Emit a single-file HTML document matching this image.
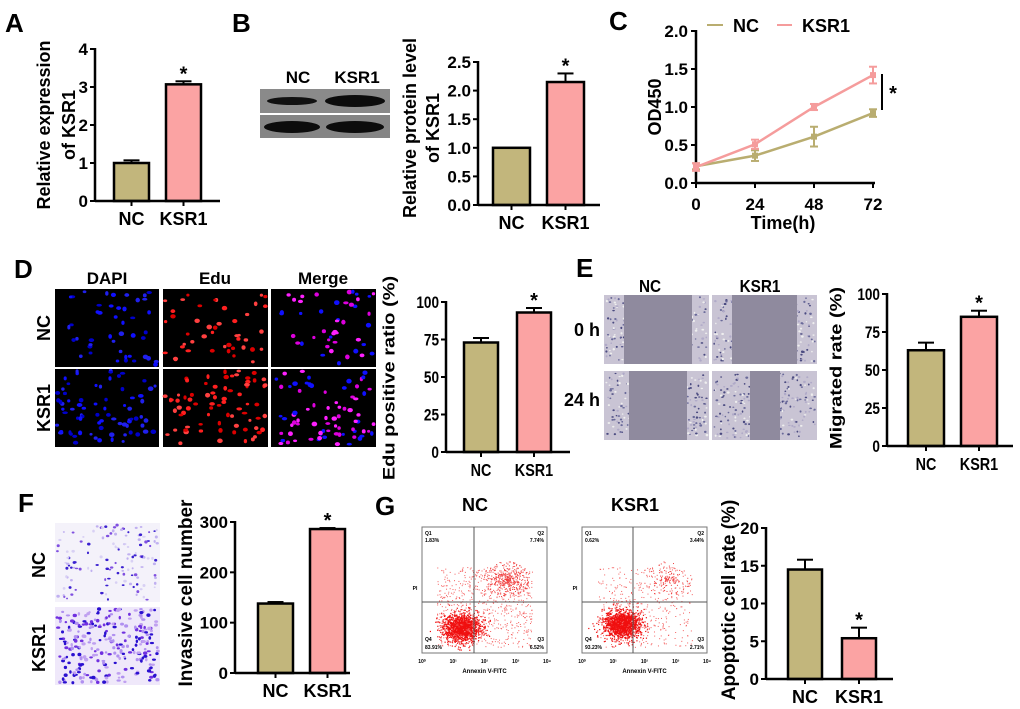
<!DOCTYPE html>
<html><head><meta charset="utf-8">
<style>
body{margin:0;background:#fff;}
svg{display:block;font-family:"Liberation Sans",Arial,sans-serif;}
.t{font-weight:bold;fill:#000;}
</style></head>
<body>
<svg id="fig" width="1020" height="709" viewBox="0 0 1020 709" xmlns="http://www.w3.org/2000/svg">
<g id="root"></g>
</svg>
<script>
// ---- chart data ----
const groups = ["NC","KSR1"];
const aValues = [1.0, 3.07];
const aErrors = [0.07, 0.08];
const aTicks = ["0","1","2","3","4"];
const bValues = [1.0, 2.15];
const bErrors = [0, 0.15];
const bTicks = ["0.0","0.5","1.0","1.5","2.0","2.5"];
const cTimes = [0,24,48,72];
const cNC = [0.22,0.36,0.61,0.92];
const cNCerr = [0.04,0.07,0.13,0.05];
const cKSR = [0.21,0.51,1.0,1.42];
const cKSRerr = [0.05,0.06,0.04,0.11];
const cYTicks = ["0.0","0.5","1.0","1.5","2.0"];
const dValues = [73, 93];
const dErrors = [3, 3];
const eValues = [63, 85];
const eErrors = [5, 4];
const pctTicks = ["0","25","50","75","100"];
const fValues = [138, 286];
const fErrors = [3, 2];
const fTicks = ["0","100","200","300"];
const gValues = [14.5, 5.4];
const gErrors = [1.3, 1.4];
const gTicks = ["0","5","10","15","20"];

const NS="http://www.w3.org/2000/svg";
const root=document.getElementById('root');
const BARC=["#c2b67c","#fba3a3"];
function mk(tag,attrs,parent){const e=document.createElementNS(NS,tag);for(const k in attrs)e.setAttribute(k,attrs[k]);(parent||root).appendChild(e);return e;}
function txt(s,x,y,size,parent,anchor,extra){const e=mk('text',Object.assign({x:x,y:y,'font-size':size,'text-anchor':anchor||'middle',class:'t'},extra||{}),parent);e.textContent=s;return e;}
let seed=7;function rnd(){seed=(seed*16807)%2147483647;return seed/2147483647;}

function barChart(name,o,values,errors,ticks){
  const g=mk('g',{});
  
  
  const max=parseFloat(ticks[ticks.length-1]);
  const y=v=>o.y0-(v/max)*(o.y0-o.y1);
  ticks.forEach((t,i)=>{const v=parseFloat(t);const yy=y(v);
    mk('line',{x1:o.ax-5,x2:o.ax,y1:yy,y2:yy,stroke:'#000','stroke-width':2},g);
    const tl=txt(t,o.ax-7,yy+6,o.fs||17,g,'end',o.narrow?{transform:`translate(${o.ax-7},${yy+6}) scale(0.8,1) translate(${-(o.ax-7)},${-(yy+6)})`}:{});
    
    
  });
  values.forEach((v,i)=>{
    const x=o.bx[i],w=o.bw;
    const top=y(v+errors[i]);
    if(errors[i]>0){
      mk('line',{x1:x+w/2,x2:x+w/2,y1:y(v),y2:top,stroke:'#000','stroke-width':2},g);
      mk('line',{x1:x+w/2-8,x2:x+w/2+8,y1:top,y2:top,stroke:'#000','stroke-width':2},g);
    }
    const r=mk('rect',{x:x,y:y(v),width:w,height:o.y0-y(v),fill:BARC[i],stroke:'#000','stroke-width':2.5},g);
    
    
    mk('line',{x1:x+w/2,x2:x+w/2,y1:o.y0,y2:o.y0+5,stroke:'#000','stroke-width':2},g);
    const lx=x+w/2;
    const lb=txt(groups[i],lx,o.y0+24,18,g,'middle',o.narrow?{transform:`translate(${lx},0) scale(0.8,1) translate(${-lx},0)`}:{});
    
    
    if(i===o.star){const s=txt('*',x+w/2,top-1,20,g);}
  });
  mk('line',{x1:o.ax,x2:o.ax,y1:o.y1-1,y2:o.y0,stroke:'#000','stroke-width':2.5},g);
  mk('line',{x1:o.ax,x2:o.xend,y1:o.y0,y2:o.y0,stroke:'#000','stroke-width':2.5},g);
  o.title.forEach((line,k)=>{
    const tx=o.tx[k],ty=o.ty;
    const t=txt(line,tx,ty,o.tfs||18,g,'middle',{transform:`rotate(-90 ${tx} ${ty})`+(o.narrow?` translate(${tx},${ty}) scale(1,0.85) translate(${-tx},${-ty})`:''),'dominant-baseline':'middle'});
    
    
  });
}
function letter(s,x,y){const t=txt(s,x,y,26,root,'start');}

letter('A',5,32);letter('B',232,32);letter('C',609,30);letter('D',14,278);letter('E',576,277);letter('F',18,512);letter('G',375,515);

// A
barChart('chart-a',{ax:95,y0:201,y1:49,bx:[114,166],bw:35,xend:220,star:1,title:['Relative expression','of KSR1'],tx:[45,70],ty:125},aValues,aErrors,aTicks);
// B blot
(function(){const g=mk('g',{});
 txt('NC',298,83,17,g);txt('KSR1',357,83,17,g);
 mk('rect',{x:260,y:89,width:130,height:24,fill:'#8a8a8a'},g);
 mk('rect',{x:260,y:115,width:130,height:23,fill:'#858585'},g);
 mk('ellipse',{cx:292,cy:101,rx:25,ry:4,fill:'#111'},g);
 mk('ellipse',{cx:355,cy:101,rx:30,ry:6,fill:'#0c0c0c'},g);
 mk('ellipse',{cx:292,cy:127,rx:28,ry:6,fill:'#0c0c0c'},g);
 mk('ellipse',{cx:355,cy:127,rx:29,ry:6,fill:'#0c0c0c'},g);
})();
barChart('chart-b',{ax:478,y0:205,y1:62,bx:[493,547],bw:37,xend:600,star:1,title:['Relative protein level','of KSR1'],tx:[411,434],ty:128},bValues,bErrors,bTicks);

// C line chart
(function(){
 const g=mk('g',{});
 const x=t=>696+(t/72)*(873-696), y=v=>183-(v/2)*(183-31);
 cYTicks.forEach(t=>{const yy=y(parseFloat(t));mk('line',{x1:691,x2:696,y1:yy,y2:yy,stroke:'#000','stroke-width':2},g);txt(t,688,yy+6,17,g,'end');});
 cTimes.forEach(t=>{mk('line',{x1:x(t),x2:x(t),y1:183,y2:188,stroke:'#000','stroke-width':2},g);txt(String(t),x(t),210,17,g);});
 mk('line',{x1:696,x2:696,y1:30,y2:183,stroke:'#000','stroke-width':2.5},g);
 mk('line',{x1:696,x2:875,y1:183,y2:183,stroke:'#000','stroke-width':2.5},g);
 [[cNC,cNCerr,'#b9ad70','line-nc'],[cKSR,cKSRerr,'#f59c9c','line-ksr1']].forEach(([vals,errs,col,nm])=>{
   const p=mk('polyline',{points:vals.map((v,i)=>x(cTimes[i])+','+y(v)).join(' '),fill:'none',stroke:col,'stroke-width':2.5},g);
   
   vals.forEach((v,i)=>{const xx=x(cTimes[i]);
     mk('line',{x1:xx,x2:xx,y1:y(v-errs[i]),y2:y(v+errs[i]),stroke:col,'stroke-width':2},g);
     mk('line',{x1:xx-4,x2:xx+4,y1:y(v-errs[i]),y2:y(v-errs[i]),stroke:col,'stroke-width':2},g);
     mk('line',{x1:xx-4,x2:xx+4,y1:y(v+errs[i]),y2:y(v+errs[i]),stroke:col,'stroke-width':2},g);
     mk('rect',{x:xx-3,y:y(v)-3,width:6,height:6,fill:col},g);
   });
 });
 mk('line',{x1:707,x2:723,y1:25,y2:25,stroke:'#b9ad70','stroke-width':2},g);txt('NC',733,32,18,g,'start');
 mk('line',{x1:777,x2:792,y1:25,y2:25,stroke:'#f59c9c','stroke-width':2},g);txt('KSR1',802,32,18,g,'start');
 mk('line',{x1:882,x2:882,y1:74,y2:110,stroke:'#000','stroke-width':2},g);
 txt('*',893,100,20,g);
 txt('Time(h)',783,229,18,g);
 txt('OD450',656,107,18,g,'middle',{transform:'rotate(-90 656 107)','dominant-baseline':'middle'});
})();

function micro(name,x0,y0,w,h,bg,cols,n,rad){
 const g=mk('g',{});
 mk('rect',{x:x0,y:y0,width:w,height:h,fill:bg},g);
 for(let i=0;i<n;i++){const c=cols[Math.floor(rnd()*cols.length)];mk('ellipse',{cx:x0+2+rnd()*(w-4),cy:y0+2+rnd()*(h-4),rx:rad*(0.7+rnd()*0.6),ry:rad*(0.6+rnd()*0.5),fill:c},g);}
 return g;
}
// D
txt('DAPI',107,284,17,root);txt('Edu',215,284,17,root);txt('Merge',323,284,17,root);
txt('NC',45,328,18,root,'middle',{transform:'rotate(-90 45 328)','dominant-baseline':'middle'});
txt('KSR1',45,408,18,root,'middle',{transform:'rotate(-90 45 408)','dominant-baseline':'middle'});
[[289,45],[369,75]].forEach(([yy,n],r)=>{
 micro('dapi-image',55,yy,104,78,'#000',['#1010ff','#0000cc','#2020ee'],n,2.2);
 micro('edu-image',163,yy,105,78,'#000',['#ff2020','#dd0000','#ff4040'],n,2.2);
 micro('merge-image',271,yy,105,78,'#000',['#ff20ff','#dd00dd','#1010ff'],n,2.2);
});
barChart('chart-d',{ax:446,y0:452,y1:302,bx:[464,517],bw:34,xend:570,star:1,title:['Edu positive ratio (%)'],tx:[390],ty:378,narrow:true,tfs:20},dValues,dErrors,pctTicks);

// E
txt('NC',650,292,18,root,'middle',{transform:'translate(650,0) scale(0.85,1) translate(-650,0)'});
txt('KSR1',760,292,18,root,'middle',{transform:'translate(760,0) scale(0.85,1) translate(-760,0)'});
txt('0 h',600,336,18,root,'end');txt('24 h',600,406,18,root,'end');
function wound(name,x0,y0,gl,gr){const g=micro(name,x0,y0,105,69,'#c9c4d4',['#6a6a9a','#eeeeee','#4a4a80','#b0aac8'],260,1.1);
 mk('rect',{x:x0+gl,y:y0,width:gr-gl,height:69,fill:'#8f8a9e'},g);}
wound('wound-nc-0h',604,295,20,88);wound('wound-ksr1-0h',712,295,20,85);
wound('wound-nc-24h',604,371,25,83);wound('wound-ksr1-24h',712,371,38,68);
barChart('chart-e',{ax:887,y0:446,y1:294,bx:[908,961],bw:36,xend:1013,star:1,title:['Migrated rate (%)'],tx:[837],ty:368,narrow:true,tfs:20},eValues,eErrors,pctTicks);

// F
txt('NC',40,565,18,root,'middle',{transform:'rotate(-90 40 565)','dominant-baseline':'middle'});
txt('KSR1',40,648,18,root,'middle',{transform:'rotate(-90 40 648)','dominant-baseline':'middle'});
micro('transwell-nc',55,523,105,79,'#f4f2fa',['#3a20d0','#8050e0','#c0b0f0','#d8d0f4'],130,1.4);
micro('transwell-ksr1',55,607,105,78,'#efe8fa',['#2a10d0','#7030e0','#b090f0','#c0a0f0'],260,1.7);
barChart('chart-f',{ax:235,y0:673,y1:522,bx:[258,310],bw:35,xend:350,star:1,title:['Invasive cell number'],tx:[187],ty:593,tfs:19},fValues,fErrors,fTicks);

function flow(name,x0,cx,cloud,q){
 const g=mk('g',{});
 const y0=527,w=125,h=126;
 mk('rect',{x:x0,y:y0,width:w,height:h,fill:'#fff',stroke:'#777','stroke-width':1},g);
 for(let i=0;i<1400;i++){const a=rnd()*6.28,r=Math.sqrt(-2*Math.log(rnd()+1e-9))*7;mk('rect',{x:x0+cloud[0]+Math.cos(a)*r*1.3,y:y0+cloud[1]+Math.sin(a)*r,width:1.2,height:1.2,fill:'#f01010'},g);}
 for(let i=0;i<cloud[2];i++){mk('rect',{x:x0+15+rnd()*95,y:y0+40+rnd()*80,width:1,height:1,fill:'#f46060'},g);}
 for(let i=0;i<cloud[3];i++){const a=rnd()*6.28,r=rnd()*18;mk('rect',{x:x0+85+Math.cos(a)*r*1.3,y:y0+52+Math.sin(a)*r,width:1,height:1,fill:'#f04040'},g);}
 mk('line',{x1:cx,x2:cx,y1:y0,y2:y0+h,stroke:'#555'},g);
 mk('line',{x1:x0,x2:x0+w,y1:602,y2:602,stroke:'#555'},g);
 const fs=5;
 txt('Q1',x0+3,y0+8,fs,g,'start');txt(q[0],x0+3,y0+15,fs,g,'start');
 txt('Q2',x0+w-3,y0+8,fs,g,'end');txt(q[1],x0+w-3,y0+15,fs,g,'end');
 txt('Q4',x0+3,y0+h-12,fs,g,'start');txt(q[2],x0+3,y0+h-4,fs,g,'start');
 txt('Q3',x0+w-3,y0+h-12,fs,g,'end');txt(q[3],x0+w-3,y0+h-4,fs,g,'end');
 ['10⁰','10¹','10²','10³','10⁴'].forEach((s,i)=>txt(s,x0+i*w/4,y0+h+10,5,g));
 txt('Annexin V-FITC',x0+w/2,y0+h+20,6,g);
 txt('PI',x0-7,y0+63,5,g);
}
txt('NC',475,511,18,root);txt('KSR1',635,511,18,root);
flow('flow-plot-nc',422,474,[40,100,700,400],['1.83%','7.74%','83.91%','6.52%']);
flow('flow-plot-ksr1',582,633,[40,97,400,150],['0.62%','3.44%','93.23%','2.71%']);
barChart('chart-g',{ax:766,y0:679,y1:528,bx:[788,842],bw:34,xend:893,star:1,title:['Apoptotic cell rate (%)'],tx:[730],ty:600,tfs:19},gValues,gErrors,gTicks);
</script>
</body></html>
